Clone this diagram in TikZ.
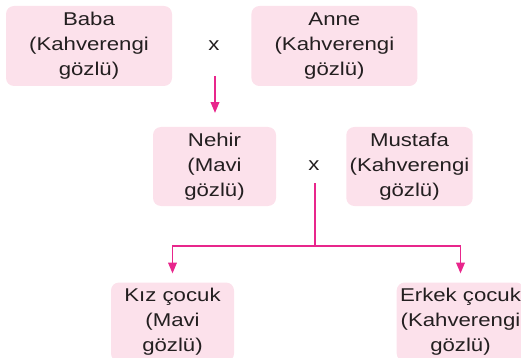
\documentclass[tikz,border=0pt]{standalone}
\usepackage{fontspec}
\setmainfont{Liberation Sans}[FakeStretch=1.2]
\usetikzlibrary{arrows,positioning}
\definecolor{boxpink}{RGB}{252,225,235}
\definecolor{linepink}{RGB}{232,38,140}
\definecolor{txtgray}{RGB}{35,31,32}

\begin{document}
\begin{tikzpicture}[x=1pt,y=-1pt]
\tikzstyle{box}=[rectangle, rounded corners=8pt, fill=boxpink, minimum width=166pt, minimum height=80pt, align=center, text=txtgray, font=\fontsize{18.5}{25}\selectfont]
\tikzstyle{boxs}=[box, minimum width=123pt, minimum height=79pt]
\tikzstyle{cross}=[text=txtgray, font=\fontsize{18.5}{25}\selectfont]
\tikzstyle{link}=[draw=linepink, line width=1.5pt]
\tikzstyle{linka}=[link, -triangle 45]
\useasboundingbox (0,0) rectangle (521,358);
\node (baba) [box] at (89,46) {Baba\\(Kahverengi\\gözlü)};
\node (anne) [box, right=79pt of baba] {Anne\\(Kahverengi\\gözlü)};
\node (x1) [cross] at (214,46) {x};
\node (nehir) [boxs] at (214.5,166.5) {Nehir\\(Mavi\\gözlü)};
\node (mustafa) [boxs] at (409.5,166.5) {Mustafa\\(Kahverengi\\gözlü)};
\node (x2) [cross] at (314,166) {x};
\node (kiz) [boxs] at (172.5,322) {Kız çocuk\\(Mavi\\gözlü)};
\node (erkek) [boxs] at (460.5,322) {Erkek çocuk\\(Kahverengi\\gözlü)};
\coordinate (a1) at (215,76);
\coordinate (a2) at (315,183);
\coordinate (j) at (315,246);
\draw[linka, shorten >=14pt] (a1) -- (a1 |- nehir.north);
\draw[link] (a2) -- (j);
\draw[linka, shorten >=9pt] (j) -| (kiz.north);
\draw[linka, shorten >=9pt] (j) -| (erkek.north);
\end{tikzpicture}
\end{document}
